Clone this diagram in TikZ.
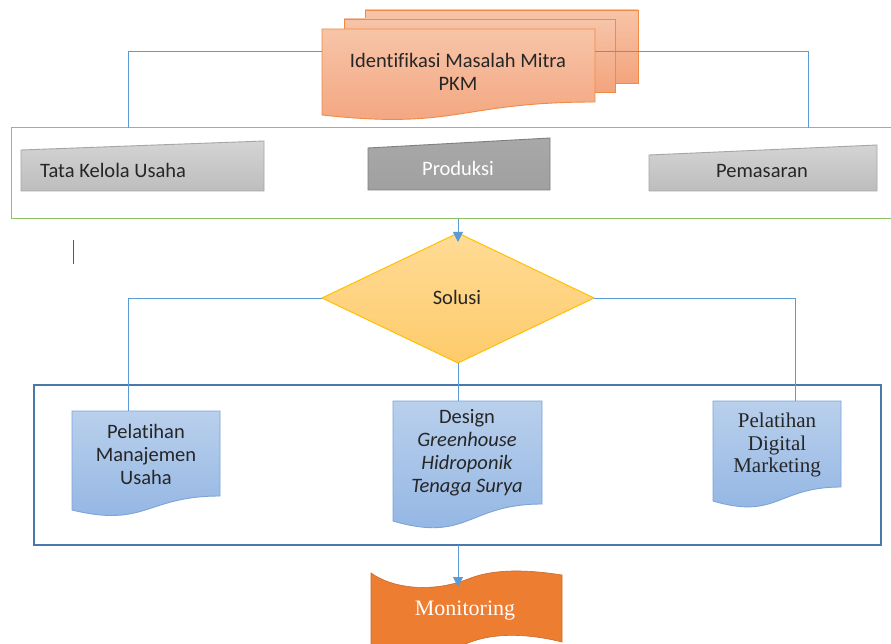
\documentclass[tikz,border=0pt]{standalone}
\usepackage{fontspec}
\setmainfont{Carlito}[Ligatures={NoCommon}]
\newfontfamily\timesf{Liberation Serif}[Ligatures={NoCommon}]
\usetikzlibrary{arrows.meta}
\definecolor{conncol}{HTML}{5B9BD5}
\definecolor{txt}{HTML}{262626}
\definecolor{orbrd}{HTML}{F08A44}
\definecolor{ortop}{HTML}{F7C4A8}
\definecolor{orbot}{HTML}{F3A47D}
\definecolor{grbrd}{HTML}{8CC168}
\definecolor{bxbrd}{HTML}{4A78A8}
\definecolor{gybrd}{HTML}{A6A6A6}
\definecolor{gytop}{HTML}{D4D4D4}
\definecolor{gybot}{HTML}{BDBDBD}
\definecolor{gdtop}{HTML}{A8A8A8}
\definecolor{gdbot}{HTML}{A0A0A0}
\definecolor{gdbrd}{HTML}{7F7F7F}
\definecolor{dmtop}{HTML}{FFDB96}
\definecolor{dmbot}{HTML}{FECB6B}
\definecolor{dmbrd}{HTML}{FFC000}
\definecolor{bltop}{HTML}{B9D0EC}
\definecolor{blbot}{HTML}{91B4E3}
\definecolor{blbrd}{HTML}{7AA4D9}
\definecolor{mon}{HTML}{ED7D31}
\tikzset{
  conn/.style={draw=conncol, line width=0.9pt},
  arr/.style={conn, -{Triangle[length=10pt,width=10pt]}},
  sheet/.style={draw=orbrd, line width=0.9pt, top color=ortop, bottom color=orbot},
  gray/.style={draw=gybrd, line width=0.9pt, top color=gytop, bottom color=gybot},
  graydark/.style={draw=gdbrd, line width=0.9pt, top color=gdtop, bottom color=gdbot},
  bluedoc/.style={draw=blbrd, line width=0.9pt, top color=bltop, bottom color=blbot},
  lbl/.style={inner sep=0pt, text=txt, font=\fontsize{20.5}{23}\selectfont, align=center},
  tlbl/.style={inner sep=0pt, text=txt, font=\timesf\fontsize{21}{22.5}\selectfont, align=center},
}
\begin{document}
\begin{tikzpicture}[x=1pt,y=-1pt]
\useasboundingbox (0,0) rectangle (891,644);
\fill[white] (0,0) rectangle (891,644);

% multidocument
\path[sheet] (365,10) rectangle (638,83);
\path[sheet] (344,19) rectangle (615,92);
\path[sheet] (322,29) -- (595,29) -- (595,102)
  .. controls (458.5,102) and (458.5,130) .. (322,115) -- cycle;
\node[lbl] (ident) at (458,72) {Identifikasi Masalah Mitra\\PKM};
\coordinate (idL) at (322,51);
\coordinate (idR) at (595,51);

% green box
\draw[draw=grbrd, line width=1pt] (11,128) rectangle (896,219);
\coordinate (gTopL) at (128,128);
\coordinate (gTopR) at (808,128);
\coordinate (gBot) at (458,219);

\path[gray] (21,150) -- (264,141) -- (264,191) -- (21,191) -- cycle;
\node[lbl, anchor=west] (tata) at (40,170) {Tata Kelola Usaha};
\path[graydark] (368,148) -- (550,138) -- (550,190) -- (368,190) -- cycle;
\node[lbl, text=white] (prod) at (458,168) {Produksi};
\path[gray] (649,155) -- (877,145) -- (877,191) -- (649,191) -- cycle;
\node[lbl] (pem) at (762,171) {Pemasaran};

\draw[conn] (idL) -| (gTopL);
\draw[conn] (idR) -| (gTopR);

% stray cursor line
\draw[gray!70!black, line width=0.8pt] (73,240) -- (73,264);

% diamond
\path[draw=dmbrd, line width=1pt, top color=dmtop, bottom color=dmbot]
  (458,233) -- (594,298) -- (458,363) -- (322,298) -- cycle;
\node[lbl] (sol) at (457,297) {Solusi};
\coordinate (dTop) at (458,242);
\coordinate (dL) at (322,298);
\coordinate (dR) at (594,298);
\coordinate (dB) at (458,363);
\draw[arr] (gBot) -- (dTop);

% blue box
\draw[draw=bxbrd, line width=1.1pt] (34,385) rectangle (881,545);
\coordinate (bBot) at (458,545);

% documents
\path[bluedoc] (72,411) -- (220,411) -- (220,496)
  .. controls (146,496) and (146,528) .. (72,510) -- cycle;
\node[lbl] (pmu) at (146,454) {Pelatihan\\Manajemen\\Usaha};
\coordinate (pmuT) at (128,411);

\path[bluedoc] (393,401) -- (542,401) -- (542,504)
  .. controls (467.5,504) and (467.5,543) .. (393,521) -- cycle;
\node[lbl] (des) at (467,453) {Design\\\itshape Greenhouse\\\itshape Hidroponik\\\itshape Tenaga Surya};
\coordinate (desT) at (458,401);

\path[bluedoc] (713,401) -- (841,401) -- (841,487)
  .. controls (777,487) and (777,520) .. (713,501) -- cycle;
\node[tlbl] (pdm) at (777,445) {Pelatihan\\Digital\\Marketing};
\coordinate (pdmT) at (795,401);

\draw[conn] (dL) -| (pmuT);
\draw[conn] (dR) -| (pdmT);
\draw[conn] (dB) -- (desT);

% monitoring
\path[fill=mon, draw=mon!85!black, line width=0.6pt]
  (371,573) .. controls (395,590) and (435,592) .. (468,579)
  .. controls (495,568) and (530,570) .. (562,575)
  -- (562,642) .. controls (530,634) and (495,632) .. (468,643)
  .. controls (435,656) and (395,656) .. (371,650) -- cycle;
\node[tlbl, text=white, font=\timesf\fontsize{22}{24}\selectfont] (mont) at (465,611) {Monitoring};
\coordinate (monT) at (458,587);
\draw[arr] (bBot) -- (monT);
\end{tikzpicture}
\end{document}
